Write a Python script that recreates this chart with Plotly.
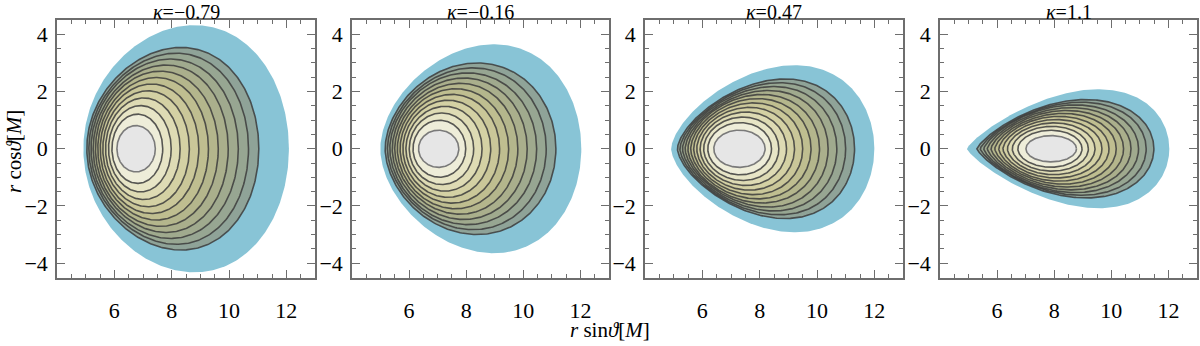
import numpy as np
import plotly.graph_objects as go

# panel titles
kappa_labels = ['−0.79', '−0.16', '0.47', '1.1']

# shapes, one entry per panel (units of M)
# blue envelope
blue_left = [4.92, 4.99, 4.91, 4.94]
blue_right = [12.09, 12.03, 12.00, 12.03]
blue_height = [4.32, 3.65, 2.92, 2.08]
blue_top_x = [8.80, 8.95, 9.23, 9.56]

# outermost dark contour
outer_left = [5.04, 5.16, 5.13, 5.29]
outer_right = [11.04, 11.14, 11.31, 11.49]
outer_height = [3.54, 3.00, 2.44, 1.72]
outer_top_x = [8.35, 8.40, 8.89, 9.10]

# innermost (grey) contour
core_left = [6.09, 6.33, 6.40, 7.01]
core_right = [7.43, 7.74, 8.19, 8.78]
core_height = [0.81, 0.65, 0.65, 0.46]

# how pointed the inner (left) tip looks
tip_sharpness = [0.0, 0.05, 0.13, 0.3]

n_levels = 12

x_ticks = [6, 8, 10, 12]
y_ticks = [-4, -2, 0, 2, 4]

# fills from the core outwards
ring_colors = ['#E6E6E6', '#EEEDD9', '#E7E5C6', '#DEDBB4', '#D4D1A4', '#CAC799',
               '#BFBE90', '#B4B68C', '#AAAF8C', '#A0AA8E', '#97A692', '#8FA398']
blue_color = '#88C4D6'

FONT = 'Liberation Serif'
W_PX, H_PX = 1200, 346
panel_px = [(57, 315), (352, 609), (645, 903), (940, 1197)]
y_dom = [(H_PX - 277.5) / H_PX, (H_PX - 20) / H_PX]

TH = np.linspace(0, 2 * np.pi, 361)


def egg(left, right, height, skew, tip):
    """closed egg curve: blunt on the right, narrower on the left"""
    c = (left + right) / 2
    w = (right - left) / 2
    cos_t, sin_t = np.cos(TH), np.sin(TH)
    base = sin_t * ((1 + cos_t) / 2) ** tip

    lo, hi = -0.9, 0.99
    for _ in range(40):
        mid = (lo + hi) / 2
        g = base * (1 + mid * cos_t)
        if cos_t[np.argmax(g)] < skew:
            lo = mid
        else:
            hi = mid
    g = base * (1 + lo * cos_t)
    return c + w * cos_t, height * g / g.max()


def skew_of(left, right, top_x):
    return (top_x - (left + right) / 2) / ((right - left) / 2)


fig = go.Figure()

for i in range(4):
    xa = 'x' if i == 0 else f'x{i + 1}'
    ya = 'y' if i == 0 else f'y{i + 1}'

    bx, by = egg(blue_left[i], blue_right[i], blue_height[i],
                 skew_of(blue_left[i], blue_right[i], blue_top_x[i]), tip_sharpness[i])
    fig.add_trace(go.Scatter(x=bx, y=by, mode='lines', fill='toself',
                             fillcolor=blue_color, line=dict(width=0),
                             xaxis=xa, yaxis=ya, hoverinfo='skip', showlegend=False))

    s_out = skew_of(outer_left[i], outer_right[i], outer_top_x[i])
    for k in range(n_levels - 1, -1, -1):
        t = k / (n_levels - 1)
        L = core_left[i] + (outer_left[i] - core_left[i]) * t ** 0.75
        R = core_right[i] + (outer_right[i] - core_right[i]) * t ** 1.1
        H = core_height[i] + (outer_height[i] - core_height[i]) * t ** 0.8
        cx, cy = egg(L, R, H, s_out * t, tip_sharpness[i] * t)
        lc = '#7a7a7a' if k == 0 else 'rgba(60,60,60,0.85)'
        fig.add_trace(go.Scatter(x=cx, y=cy, mode='lines', fill='toself',
                                 fillcolor=ring_colors[k], line=dict(color=lc, width=1.6),
                                 xaxis=xa, yaxis=ya, hoverinfo='skip', showlegend=False))

    x0, x1 = panel_px[i]
    axis_common = dict(showline=True, mirror='ticks', linecolor='#6e6e6e', linewidth=1.5,
                       ticks='inside', ticklen=8, tickwidth=1.2, tickcolor='#6e6e6e',
                       showgrid=False, zeroline=False, automargin=False,
                       tickfont=dict(family=FONT, size=22, color='black'))
    fig.update_layout(**{
        ('xaxis' if i == 0 else f'xaxis{i + 1}'): dict(
            axis_common, domain=[x0 / W_PX, x1 / W_PX], range=[4, 13],
            tickmode='array', tickvals=x_ticks, anchor=ya, ticklabelstandoff=12,
            minor=dict(ticks='inside', ticklen=4, tickcolor='#6e6e6e', tickmode='linear',
                       tick0=0, dtick=0.5, showgrid=False)),
        ('yaxis' if i == 0 else f'yaxis{i + 1}'): dict(
            axis_common, domain=list(y_dom), range=[-4.5, 4.5],
            tickmode='array', tickvals=y_ticks, anchor=xa, ticklabelstandoff=3,
            minor=dict(ticks='inside', ticklen=4, tickcolor='#6e6e6e', tickmode='linear',
                       tick0=0, dtick=0.5, showgrid=False)),
    })

    fig.add_annotation(text=f'<i>κ</i>={kappa_labels[i]}', xref='paper', yref='paper',
                       x=(x0 + x1) / 2 / W_PX, y=(H_PX - 12) / H_PX, showarrow=False,
                       font=dict(family=FONT, size=20, color='black'),
                       xanchor='center', yanchor='middle')

fig.add_annotation(text='<i>r</i> sin<i>ϑ</i>[<i>M</i>]', xref='paper', yref='paper',
                   x=610 / W_PX, y=(H_PX - 330) / H_PX, showarrow=False,
                   font=dict(family=FONT, size=21, color='black'),
                   xanchor='center', yanchor='middle')
fig.add_annotation(text='<i>r</i> cos<i>ϑ</i>[<i>M</i>]', xref='paper', yref='paper',
                   x=14 / W_PX, y=(H_PX - 152) / H_PX, showarrow=False, textangle=-90,
                   font=dict(family=FONT, size=21, color='black'),
                   xanchor='center', yanchor='middle')

fig.update_layout(width=W_PX, height=H_PX, margin=dict(l=0, r=0, t=0, b=0),
                  paper_bgcolor='white', plot_bgcolor='white', showlegend=False)

# drop the browser's default 8 px body margin so the figure sits at the page corner
fig.write_html('out.html', config={'displayModeBar': False},
               post_script="document.body.style.margin = '0';")
